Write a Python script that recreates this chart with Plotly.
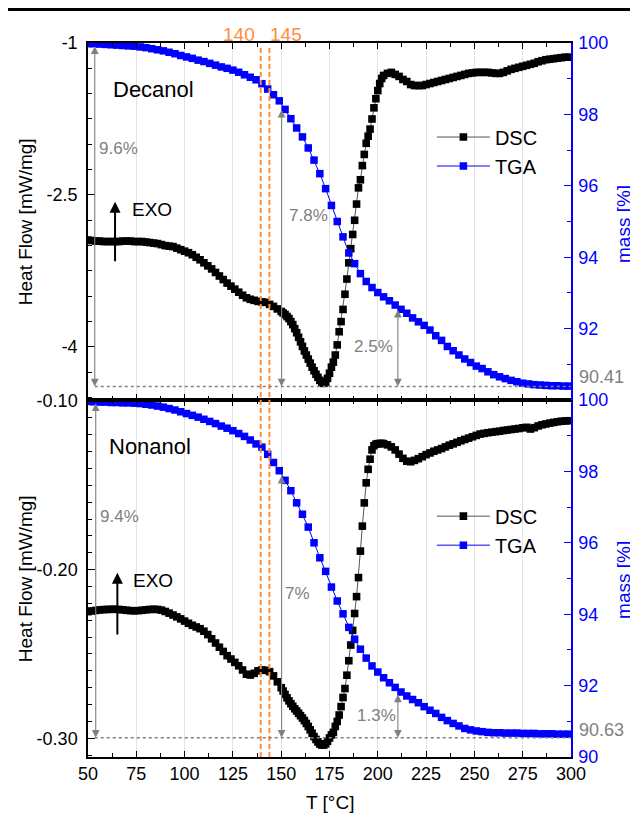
import plotly.graph_objects as go

FONT = "Liberation Sans, Arial, sans-serif"
BLUE = "#0000ff"
GRAY = "#808080"
ORANGE = "#ff8c3c"

# ---------------- data ----------------
# DSC temperature grid (deg C)
dsc_T = list(range(50, 150, 2)) + list(range(150, 204)) + list(range(205, 300, 2))
# TGA temperature grid (deg C)
tga_T = list(range(50, 300, 3))

# Decanol DSC heat flow [mW/mg]
dec_dsc = [
    -2.945, -2.950, -2.955, -2.955, -2.960, -2.960, -2.960, -2.960, -2.960, -2.955,
    -2.955, -2.955, -2.960, -2.960, -2.960, -2.965, -2.970, -2.975, -2.980, -2.990,
    -3.000, -3.005, -3.010, -3.025, -3.040, -3.055, -3.070, -3.090, -3.115, -3.140,
    -3.170, -3.200, -3.230, -3.265, -3.300, -3.335, -3.370, -3.400, -3.430, -3.460,
    -3.490, -3.515, -3.530, -3.540, -3.550, -3.555, -3.560, -3.580, -3.600, -3.625,
    -3.650, -3.665, -3.680, -3.700, -3.720, -3.750, -3.780, -3.820, -3.860, -3.905,
    -3.950, -3.995, -4.040, -4.080, -4.120, -4.160, -4.200, -4.235, -4.270, -4.300,
    -4.330, -4.350, -4.360, -4.350, -4.310, -4.260, -4.200, -4.150, -4.080, -3.980,
    -3.850, -3.750, -3.630, -3.480, -3.330, -3.170, -3.030, -2.890, -2.750, -2.590,
    -2.430, -2.350, -2.210, -2.100, -1.990, -1.920, -1.850, -1.750, -1.640, -1.550,
    -1.470, -1.400, -1.350, -1.320,
    -1.300, -1.290, -1.310, -1.330, -1.360, -1.380, -1.410, -1.420, -1.420, -1.420,
    -1.410, -1.400, -1.390, -1.380, -1.370, -1.360, -1.350, -1.340, -1.330, -1.320,
    -1.310, -1.300, -1.295, -1.290, -1.290, -1.290, -1.290, -1.295, -1.300, -1.300,
    -1.290, -1.275, -1.260, -1.250, -1.240, -1.230, -1.220, -1.210, -1.200, -1.185,
    -1.175, -1.165, -1.160, -1.155, -1.150, -1.145, -1.140, -1.140,
]

# Nonanol DSC heat flow [mW/mg]
non_dsc = [
    -0.2249, -0.2245, -0.2242, -0.2239, -0.2237, -0.2236, -0.2235, -0.2235, -0.2236, -0.2238,
    -0.2241, -0.2243, -0.2244, -0.2243, -0.2241, -0.2238, -0.2236, -0.2235, -0.2236, -0.2240,
    -0.2248, -0.2258, -0.2269, -0.2280, -0.2292, -0.2305, -0.2318, -0.2330, -0.2340, -0.2350,
    -0.2365, -0.2385, -0.2410, -0.2435, -0.2460, -0.2485, -0.2510, -0.2530, -0.2550, -0.2570,
    -0.2595, -0.2620, -0.2625, -0.2615, -0.2600, -0.2595, -0.2597, -0.2605, -0.2630, -0.2665,
    -0.2700, -0.2720, -0.2740, -0.2760, -0.2778, -0.2795, -0.2810, -0.2825, -0.2838, -0.2852,
    -0.2866, -0.2880, -0.2895, -0.2912, -0.2930, -0.2950, -0.2970, -0.2990, -0.3007, -0.3022,
    -0.3034, -0.3040, -0.3040, -0.3033, -0.3018, -0.2998, -0.2980, -0.2965, -0.2930, -0.2900,
    -0.2862, -0.2812, -0.2758, -0.2705, -0.2626, -0.2540, -0.2447, -0.2360, -0.2260, -0.2160,
    -0.2047, -0.1890, -0.1742, -0.1604, -0.1485, -0.1405, -0.1345, -0.1290, -0.1265, -0.1256,
    -0.1253, -0.1252, -0.1251, -0.1253,
    -0.1260, -0.1272, -0.1290, -0.1315, -0.1340, -0.1357, -0.1360, -0.1352, -0.1342, -0.1330,
    -0.1318, -0.1308, -0.1298, -0.1290, -0.1282, -0.1272, -0.1262, -0.1254, -0.1245, -0.1236,
    -0.1228, -0.1220, -0.1212, -0.1204, -0.1196, -0.1192, -0.1188, -0.1185, -0.1182, -0.1179,
    -0.1175, -0.1172, -0.1169, -0.1166, -0.1163, -0.1159, -0.1156, -0.1166, -0.1158, -0.1148,
    -0.1141, -0.1136, -0.1131, -0.1127, -0.1123, -0.1120, -0.1118, -0.1117,
]

# Decanol TGA mass [%]
dec_tga = [
    99.98, 99.98, 99.97, 99.96, 99.95, 99.94, 99.93, 99.92, 99.91, 99.89,
    99.87, 99.84, 99.81, 99.78, 99.74, 99.70, 99.65, 99.61, 99.57, 99.52,
    99.48, 99.43, 99.38, 99.33, 99.29, 99.24, 99.18, 99.11, 99.04, 98.97,
    98.86, 98.71, 98.55, 98.38, 98.14, 97.88, 97.62, 97.37, 97.06, 96.72,
    96.34, 95.92, 95.45, 95.00, 94.57, 94.12, 93.82, 93.54, 93.32, 93.15,
    93.01, 92.89, 92.78, 92.66, 92.54, 92.43, 92.30, 92.19, 92.09, 91.96,
    91.80, 91.67, 91.50, 91.38, 91.26, 91.15, 91.05, 90.95, 90.88, 90.79,
    90.71, 90.65, 90.60, 90.55, 90.51, 90.47, 90.45, 90.43, 90.42, 90.41,
    90.40, 90.40, 90.39, 90.39,
]

# Nonanol TGA mass [%]
non_tga = [
    99.96, 99.95, 99.94, 99.94, 99.93, 99.93, 99.92, 99.92, 99.91, 99.90,
    99.88, 99.86, 99.83, 99.80, 99.76, 99.72, 99.67, 99.62, 99.57, 99.52,
    99.46, 99.40, 99.34, 99.27, 99.21, 99.14, 99.06, 98.98, 98.88, 98.77,
    98.68, 98.48, 98.25, 98.02, 97.75, 97.46, 97.12, 96.80, 96.44, 96.00,
    95.58, 95.20, 94.76, 94.37, 94.01, 93.63, 93.30, 93.02, 92.77, 92.55,
    92.38, 92.22, 92.08, 91.95, 91.82, 91.71, 91.61, 91.52, 91.41, 91.31,
    91.22, 91.11, 91.02, 90.94, 90.87, 90.80, 90.76, 90.73, 90.71, 90.69,
    90.68, 90.68, 90.67, 90.67, 90.67, 90.66, 90.66, 90.66, 90.65, 90.65,
    90.65, 90.64, 90.64, 90.64,
]

x_ticks = [50, 75, 100, 125, 150, 175, 200, 225, 250, 275, 300]
dec_hf_ticks = [-4, -2.5, -1]
dec_hf_text = ["-4", "-2.5", "-1"]
non_hf_ticks = [-0.30, -0.20, -0.10]
non_hf_text = ["-0.30", "-0.20", "-0.10"]
dec_mass_ticks = [92, 94, 96, 98, 100]
non_mass_ticks = [90, 92, 94, 96, 98, 100]

onset_T = [139.4, 143.9]          # orange dashed marks (labelled 140 / 145)
dec_residue = 90.38               # level of dotted residue line (Decanol)
non_residue = 90.54               # level of dotted residue line (Nonanol)

# ---------------- figure ----------------
fig = go.Figure()

def add_pair(xa, ya_l, ya_r, dsc, tga, leg):
    fig.add_trace(go.Scatter(
        x=dsc_T, y=dsc, xaxis=xa, yaxis=ya_l, name="DSC", legend=leg,
        mode="lines+markers", line=dict(color="#555555", width=1),
        marker=dict(symbol="square", size=7.6, color="black")))
    fig.add_trace(go.Scatter(
        x=tga_T, y=tga, xaxis=xa, yaxis=ya_r, name="TGA", legend=leg,
        mode="lines+markers", line=dict(color=BLUE, width=1),
        marker=dict(symbol="square", size=7.5, color=BLUE)))

add_pair("x2", "y", "y2", dec_dsc, dec_tga, "legend")
add_pair("x", "y3", "y4", non_dsc, non_tga, "legend2")

xcommon = dict(
    range=[50, 300], tickmode="array", tickvals=x_ticks, ticks="inside", ticklen=6,
    tickwidth=1.2, tickcolor="black", showline=True, linecolor="black", linewidth=1.5,
    mirror="ticks", showgrid=True, gridcolor="#e3e3e3", gridwidth=1, zeroline=False,
    minor=dict(tick0=50, dtick=12.5, ticks="inside", ticklen=4, tickcolor="black",
               showgrid=False),
)
ycommon_left = dict(
    ticks="inside", ticklen=7, tickwidth=1.2, tickcolor="black", showline=True,
    linecolor="black", linewidth=1.5, showgrid=False, zeroline=False,
    tickfont=dict(size=18, color="black"), ticklabelstandoff=5,
)
ycommon_right = dict(
    side="right", ticks="inside", ticklen=7, tickwidth=1.2,
    tickcolor=BLUE, showline=True, linecolor=BLUE, linewidth=1.5, showgrid=False,
    zeroline=False, range=[90, 100], tickfont=dict(size=18, color=BLUE),
    ticklabelstandoff=2,
    minor=dict(tick0=90, dtick=1, ticks="inside", ticklen=4, tickcolor=BLUE),
)

# the page body adds an 8 px offset, so the figure is 8 px smaller and margins adjusted
fig.update_layout(
    width=630, height=809, autosize=False,
    margin=dict(l=80, r=67, t=35, b=60),
    paper_bgcolor="white", plot_bgcolor="white",
    font=dict(family=FONT, size=18, color="black"),
    xaxis=dict(**xcommon, anchor="y3", domain=[0, 1], tickfont=dict(size=18)),
    xaxis2=dict(**xcommon, anchor="y", matches="x", showticklabels=False),
    yaxis=dict(**ycommon_left, domain=[0.5, 1], anchor="x2", range=[-4.524, -1],
               tickmode="array", tickvals=dec_hf_ticks, ticktext=dec_hf_text,
               minor=dict(tick0=-4, dtick=0.25, ticks="inside", ticklen=4,
                          tickcolor="black")),
    yaxis2=dict(**ycommon_right, overlaying="y", anchor="x2",
                tickmode="array", tickvals=dec_mass_ticks),
    yaxis3=dict(**ycommon_left, domain=[0, 0.5], anchor="x", range=[-0.3111, -0.0994],
                tickmode="array", tickvals=non_hf_ticks, ticktext=non_hf_text,
                minor=dict(tick0=-0.3, dtick=0.01, ticks="inside", ticklen=4,
                           tickcolor="black")),
    yaxis4=dict(**ycommon_right, overlaying="y3", anchor="x",
                tickmode="array", tickvals=non_mass_ticks),
    legend=dict(x=0.712, y=0.848, xanchor="left", yanchor="middle",
                bgcolor="rgba(0,0,0,0)", font=dict(size=20), itemwidth=53,
                tracegroupgap=0),
    legend2=dict(x=0.712, y=0.317, xanchor="left", yanchor="middle",
                 bgcolor="rgba(0,0,0,0)", font=dict(size=20), itemwidth=53,
                 tracegroupgap=0),
    showlegend=True,
)

shapes = []
# top rule of the page
shapes.append(dict(type="line", xref="paper", yref="paper", x0=-0.1656, x1=1.1387,
                   y0=1.0469, y1=1.0469, line=dict(color="black", width=3)))
# orange onset lines
for t in onset_T:
    shapes.append(dict(type="line", xref="x", yref="paper", x0=t, x1=t, y0=0, y1=0.995,
                       line=dict(color=ORANGE, width=2, dash="5px,3px")))
# dotted residue lines
shapes.append(dict(type="line", xref="x2", yref="y2", x0=53.5, x1=300,
                   y0=dec_residue, y1=dec_residue,
                   line=dict(color=GRAY, width=1.5, dash="dot")))
shapes.append(dict(type="line", xref="x", yref="y4", x0=53.5, x1=300,
                   y0=non_residue, y1=non_residue,
                   line=dict(color=GRAY, width=1.5, dash="dot")))
fig.update_layout(shapes=shapes)

ann = []

def darrow(xr, yr, x, y_head, y_tail):
    ann.append(dict(xref=xr, yref=yr, axref=xr, ayref=yr, x=x, y=y_head, ax=x, ay=y_tail,
                    text="", showarrow=True, arrowside="end+start", arrowhead=2,
                    startarrowhead=2, arrowsize=1.4, startarrowsize=1.4,
                    arrowwidth=1.1, arrowcolor=GRAY))

def txt(xr, yr, x, y, s, size, color="black"):
    ann.append(dict(xref=xr, yref=yr, x=x, y=y, text=s, showarrow=False,
                    font=dict(size=size, color=color), xanchor="center", yanchor="middle"))

# Decanol (top)
darrow("x2", "y2", 53.5, dec_residue, 99.95)
darrow("x2", "y2", 150.2, dec_residue, 98.17)
darrow("x2", "y2", 210.4, dec_residue, 92.57)
txt("x2", "y", 84.1, -1.457, "Decanol", 22)
txt("x2", "y", 65.6, -2.04, "9.6%", 17, GRAY)
txt("x2", "y", 164.2, -2.70, "7.8%", 17, GRAY)
txt("x2", "y", 198.0, -4.00, "2.5%", 17, GRAY)
txt("x2", "y", 82.9, -2.64, "EXO", 19)
ann.append(dict(xref="x2", yref="y", axref="x2", ayref="y", x=64, y=-2.567, ax=64, ay=-3.17,
                text="", showarrow=True, arrowhead=2, arrowsize=1.1, arrowwidth=2,
                arrowcolor="black"))
txt("paper", "y2", 1.0635, 90.65, "90.41", 18, GRAY)

# Nonanol (bottom)
darrow("x", "y4", 54.0, non_residue, 99.95)
darrow("x", "y4", 150.2, non_residue, 97.92)
darrow("x", "y4", 210.4, non_residue, 91.79)
txt("x", "y3", 82.3, -0.1271, "Nonanol", 22)
txt("x", "y3", 66.1, -0.1686, "9.4%", 17, GRAY)
txt("x", "y3", 158.3, -0.214, "7%", 17, GRAY)
txt("x", "y3", 199.3, -0.2862, "1.3%", 17, GRAY)
txt("x", "y3", 83.8, -0.2067, "EXO", 19)
ann.append(dict(xref="x", yref="y3", axref="x", ayref="y3", x=65.2, y=-0.2018, ax=65.2,
                ay=-0.2393, text="", showarrow=True, arrowhead=2, arrowsize=1.1,
                arrowwidth=2, arrowcolor="black"))
txt("paper", "y4", 1.0635, 90.76, "90.63", 18, GRAY)

# onset labels
txt("x", "paper", 128.1, 1.0119, "140", 19, ORANGE)
txt("x", "paper", 152.4, 1.0119, "145", 19, ORANGE)

# axis titles
for yc in (0.75, 0.25):
    ann.append(dict(xref="paper", yref="paper", x=-0.129, y=yc, text="Heat Flow [mW/mg]",
                    textangle=-90, showarrow=False, font=dict(size=19),
                    xanchor="center", yanchor="middle"))
for yc in (0.7465, 0.248):
    ann.append(dict(xref="paper", yref="paper", x=1.1097, y=yc, text="mass [%]",
                    textangle=-90, showarrow=False, font=dict(size=19, color=BLUE),
                    xanchor="center", yanchor="middle"))
ann.append(dict(xref="paper", yref="paper", x=0.5, y=-0.0644, text="T [°C]",
                showarrow=False, font=dict(size=19), xanchor="center", yanchor="middle"))

fig.update_layout(annotations=ann)

fig.write_html("out.html")
